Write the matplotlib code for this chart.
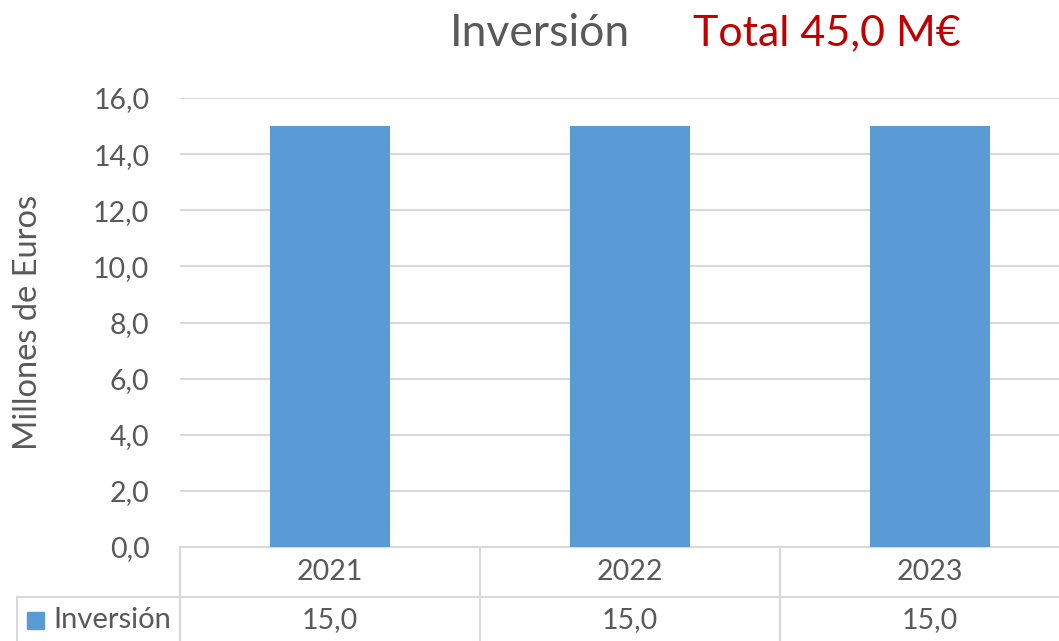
import matplotlib
matplotlib.use("Agg")
import matplotlib.pyplot as plt
import matplotlib.transforms as mtransforms
from matplotlib.patches import Rectangle
from matplotlib.lines import Line2D

# ── Data ──────────────────────────────────────────────────────────────────────
years = ["2021", "2022", "2023"]
inversion = [15.0, 15.0, 15.0]
series_name = "Inversión"
y_ticks = [0, 2, 4, 6, 8, 10, 12, 14, 16]

BAR = "#5B9BD5"
TXT = "#595959"
GRID = "#D9D9D9"
RED = "#C00000"

plt.rcParams["font.family"] = ["Lato", "DejaVu Sans"]

W, H = 1059, 641
fig = plt.figure(figsize=(W / 100, H / 100), dpi=100)

# plot area in pixel terms (right edge runs past the figure, like the source)
left, right, top, bottom = 180, 1080, 98, 547
ax = fig.add_axes([left / W, (H - bottom) / H, (right - left) / W, (bottom - top) / H])

x = range(len(years))
ax.bar(x, inversion, width=0.4, color=BAR, zorder=3)
ax.set_xlim(-0.5, len(years) - 0.5)
ax.set_ylim(0, 16)
ax.set_yticks(y_ticks)
ax.set_yticklabels([f"{v:.1f}".replace(".", ",") for v in y_ticks])
ax.set_xticks([])
ax.tick_params(axis="y", length=0, pad=22, labelsize=20.5, labelcolor=TXT)
ax.grid(True, axis="y", color=GRID, linewidth=1.5, zorder=0)
for s in ax.spines.values():
    s.set_visible(False)
ax.set_ylabel("Millones de Euros", fontsize=23.5, color=TXT)
ax.yaxis.set_label_coords(-137 / (right - left), 0.5)

# ── Data table under the axis ────────────────────────────────────────────────
px = 1.0 / (bottom - top)             # one pixel in axes-y units
row1 = -50 * px                        # bottom of year row
row2 = -100 * px                       # bottom of value row (beyond figure)
trans = mtransforms.blended_transform_factory(ax.transData, ax.transAxes)
lkw = dict(color=GRID, linewidth=1.5, clip_on=False, zorder=1)

# horizontal lines
ax.add_line(Line2D([-0.5, len(years) - 0.5], [0, 0], transform=trans, **lkw))
ax.add_line(Line2D([-0.5 - 163 / 300, len(years) - 0.5], [row1, row1], transform=trans, **lkw))
# vertical lines
for i in range(len(years)):
    ax.add_line(Line2D([i - 0.5, i - 0.5], [0, row2], transform=trans, **lkw))
ax.add_line(Line2D([-0.5 - 163 / 300] * 2, [row1, row2], transform=trans, **lkw))

for i, (yr, v) in enumerate(zip(years, inversion)):
    ax.text(i, row1 / 2, yr, transform=trans, ha="center", va="center",
            fontsize=20.5, color=TXT)
    ax.text(i, row1 - 23 * px, f"{v:.1f}".replace(".", ","), transform=trans,
            ha="center", va="center", fontsize=20.5, color=TXT)

# legend key in the table
key_x = -0.5 - 153 / 300
ax.add_patch(Rectangle((key_x, row1 - 32 * px), 17 / 300, 17 * px, transform=trans,
                       color=BAR, clip_on=False))
ax.text(-0.5 - 127 / 300, row1 - 23 * px, series_name, transform=trans,
        ha="left", va="center", fontsize=21, color=TXT)

# ── Title ─────────────────────────────────────────────────────────────────────
total = sum(inversion)
fig.text(540 / W, 1 - 33 / H, "Inversión", ha="center", va="center",
         fontsize=32, color=TXT)
fig.text(693 / W, 1 - 33 / H, f"Total {total:.1f} M€".replace(".", ","),
         ha="left", va="center", fontsize=31, color=RED)

fig.savefig("out.png", dpi=100)
